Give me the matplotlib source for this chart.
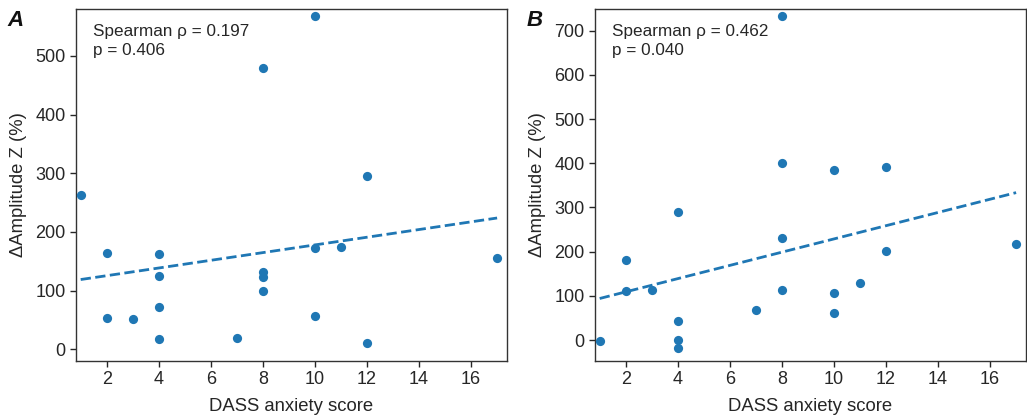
import numpy as np
import matplotlib
matplotlib.use("Agg")
import matplotlib.pyplot as plt

plt.rcParams['font.family'] = ['Liberation Sans', 'DejaVu Sans']

# Data
anxiety_a = [1, 2, 2, 3, 4, 4, 4, 4, 7, 8, 8, 8, 8, 10, 10, 10, 11, 12, 12, 17]
amp_a = [263, 164.6, 54, 51.6, 163, 125, 72, 17.5, 20, 480, 131, 124, 100,
         568, 172, 57, 174, 295, 10, 155]

anxiety_b = [1, 2, 2, 3, 4, 4, 4, 4, 7, 8, 8, 8, 8, 10, 10, 10, 11, 12, 12, 17]
amp_b = [-2.3, 181.8, 111, 113, 290, 42, -1, -19, 68.6, 733, 400, 230, 114,
         385, 107, 61, 128, 391, 201, 216.5]

stats_a = "Spearman ρ = 0.197\np = 0.406"
stats_b = "Spearman ρ = 0.462\np = 0.040"

xticks = [2, 4, 6, 8, 10, 12, 14, 16]
yticks_a = [0, 100, 200, 300, 400, 500]
yticks_b = [0, 100, 200, 300, 400, 500, 600, 700]

blue = '#1f77b4'
txt = '#262626'

fig = plt.figure(figsize=(10.27, 4.19), dpi=100)
axA = fig.add_axes([76/1027, 1 - 361/419, 431/1027, 352/419])
axB = fig.add_axes([595/1027, 1 - 361/419, 431/1027, 352/419])

panels = [
    (axA, anxiety_a, amp_a, stats_a, yticks_a, (-20, 580), 'A'),
    (axB, anxiety_b, amp_b, stats_b, yticks_b, (-47.5, 749), 'B'),
]

for ax, x, y, st, yt, ylim, letter in panels:
    x = np.asarray(x, float)
    y = np.asarray(y, float)
    ax.scatter(x, y, s=44, color=blue, zorder=3, linewidths=0)
    k, b = np.polyfit(x, y, 1)
    xs = np.array([x.min(), x.max()])
    ax.plot(xs, k * xs + b, '--', color=blue, lw=2, zorder=2)
    ax.set_xlim(0.82, 17.38)
    ax.set_ylim(*ylim)
    ax.set_xticks(xticks)
    ax.set_yticks(yt)
    ax.tick_params(labelsize=13, colors=txt, length=4.5, width=1, pad=3)
    for sp in ax.spines.values():
        sp.set_color('#333333')
        sp.set_linewidth(1)
    ax.set_xlabel('DASS anxiety score', fontsize=13.3, color=txt, labelpad=7)
    ax.set_ylabel('ΔAmplitude Z (%)', fontsize=13.3, color=txt, labelpad=6)
    ax.text(0.04, 0.957, st, transform=ax.transAxes, fontsize=12.3, color=txt,
            va='top', ha='left', linespacing=1.3)

fig.text(7/1027, 1 - 26/419, 'A', fontsize=16, fontweight='bold', style='italic',
         color='#111111', va='baseline', ha='left')
fig.text(527/1027, 1 - 26/419, 'B', fontsize=16, fontweight='bold', style='italic',
         color='#111111', va='baseline', ha='left')

fig.savefig('out.png', dpi=100)
